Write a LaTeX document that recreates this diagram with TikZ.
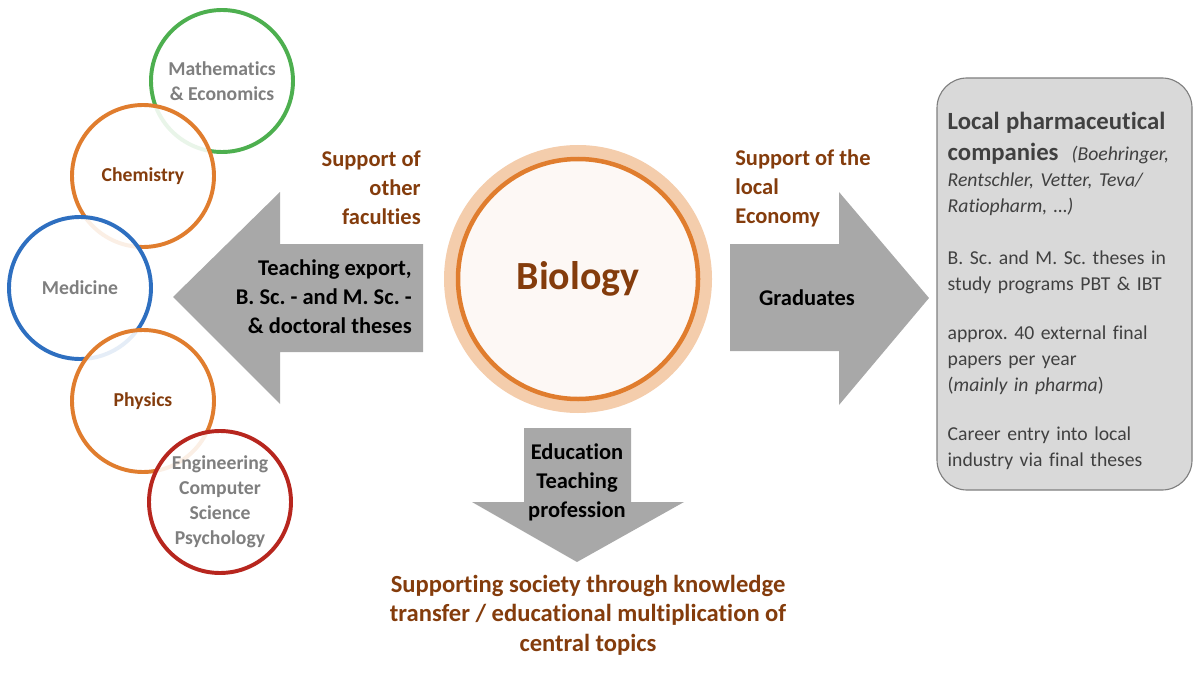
\documentclass[tikz,border=0pt]{standalone}
\usepackage{fontspec}
\setmainfont[Ligatures=NoCommon]{Carlito}
\frenchspacing
\usetikzlibrary{positioning}
\definecolor{ink}{HTML}{000000}
\definecolor{brownink}{HTML}{843C0C}
\definecolor{greyink}{HTML}{7F7F7F}
\definecolor{boxink}{HTML}{404040}
\definecolor{arrowfill}{HTML}{A8A8A8}
\definecolor{ringorange}{HTML}{E07D2E}
\definecolor{halofill}{HTML}{F4CDAC}
\definecolor{biofill}{HTML}{FDF8F5}
\definecolor{mathgreen}{HTML}{4DAF4F}
\definecolor{medblue}{HTML}{2E6FC0}
\definecolor{engred}{HTML}{B7261E}
\definecolor{boxfill}{HTML}{D9D9D9}
\definecolor{boxline}{HTML}{7F7F7F}

\begin{document}
\begin{tikzpicture}[
  font=\fontsize{16}{20.6}\selectfont,
  text=ink,
  faculty/.style={
    circle,
    draw=#1,
    line width=2.8pt,
    fill=white,
    fill opacity=0.88,
    text opacity=1,
    minimum size=3.55cm,
    inner sep=0pt,
    align=center,
    font=\fontsize{14}{17.8}\selectfont\bfseries
  },
  hub/.style={
    circle,
    draw=ringorange,
    line width=3.2pt,
    fill=biofill,
    preaction={draw=halofill, line width=0.7cm},
    minimum size=6cm,
    text=brownink,
    font=\fontsize{28.4}{34}\selectfont\bfseries
  },
  blockarrow/.style={fill=arrowfill},
  armlabel/.style={inner sep=0pt, font=\fontsize{16}{20.6}\selectfont\bfseries},
  sidenote/.style={armlabel, text=brownink},
  pharmabox/.style={
    draw=boxline,
    thick,
    fill=boxfill,
    rounded corners=0.75cm,
    minimum width=6.375cm,
    minimum height=10.3cm
  },
  pharmatext/.style={
    text=boxink,
    align=left,
    text width=5.83cm,
    inner sep=0pt,
    font=\fontsize{14}{18.5}\selectfont
  }
]
\useasboundingbox (0,0) rectangle (30,16.875);

% Faculties around the left arrow
\node[faculty=mathgreen, text=greyink] (math) at (5.55,14.85) {Mathematics\\\& Economics};
\node[faculty=ringorange, text=brownink] (chem) at (3.575,12.475) {Chemistry};
\node[faculty=medblue, text=greyink] (med) at (2.0,9.675) {Medicine};
\node[faculty=ringorange, text=brownink] (phys) at (3.575,6.85) {Physics};
\node[faculty=engred, text=greyink] (eng) at (5.5,4.325) {Engineering\\Computer\\Science\\Psychology};

% Block arrows out of biology
\fill[blockarrow] (4.325,9.45) -- (7.0,12.075) -- (7.0,10.775) -- (10.575,10.775)
  -- (10.575,8.075) -- (7.0,8.075) -- (7.0,6.775) -- cycle;
\fill[blockarrow] (23.225,9.425) -- (20.975,12.075) -- (20.975,10.775) -- (18.25,10.775)
  -- (18.25,8.1) -- (20.975,8.1) -- (20.975,6.75) -- cycle;
\fill[blockarrow] (14.425,2.825) -- (11.8,4.325) -- (13.1,4.325) -- (13.1,6.175)
  -- (15.775,6.175) -- (15.775,4.325) -- (17.1,4.325) -- cycle;

% Centre
\node[hub] (bio) at (14.45,9.9) {Biology};

% Labels on and beside the arrows
\node[armlabel, anchor=east, align=right] (export) at (10.3,9.45) {Teaching export,\\B. Sc. - and M. Sc. -\\\& doctoral theses};
\node[sidenote, anchor=east, align=right] (faculties) at (10.525,12.175) {Support of\\other\\faculties};
\node[sidenote, anchor=west, align=left] (economy) at (18.375,12.175) {Support of the\\local\\Economy};
\node[armlabel] (grads) at (20.175,9.425) {Graduates};
\node[armlabel, align=center] (edu) at (14.425,4.825) {Education\\Teaching\\profession};
\node[sidenote, align=center, font=\fontsize{17.5}{21}\selectfont\bfseries] (society) at (14.7,1.5) {Supporting society through knowledge\\transfer / educational multiplication of\\central topics};

% Local industry
\node[pharmabox] (pharma) at (26.6125,9.775) {};
\node[pharmatext, anchor=north west] (pharmanote) at ([xshift=0.275cm,yshift=-0.85cm]pharma.north west) {{\fontsize{17.6}{22}\selectfont\bfseries Local pharmaceutical}\\[4pt]
{\fontsize{17.6}{22}\selectfont\bfseries companies}\ \ \textit{(Boehringer,}\\
\textit{Rentschler, Vetter, Teva/}\\
\textit{Ratiopharm, …)}\\[18.5pt]
B. Sc. and M. Sc. theses in\\
study programs PBT \& IBT\\[16.4pt]
approx. 40 external final\\
papers per year\\
(\textit{mainly in pharma})\\[16.4pt]
Career entry into local\\
industry via final theses};

\end{tikzpicture}
\end{document}
